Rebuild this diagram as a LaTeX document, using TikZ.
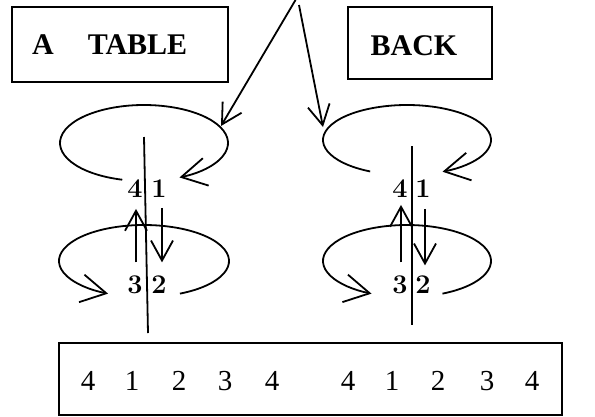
\documentclass[tikz,border=0pt]{standalone}
\usepackage{fontspec}
\newfontfamily\tnr{Liberation Serif}
\usetikzlibrary{arrows.meta}
\begin{document}
\begin{tikzpicture}[x=1pt,y=1pt,line width=1.8pt,
  tip/.style={-{Straight Barb[length=20pt,width=22pt]}},
  bigtip/.style={-{Straight Barb[length=25pt,width=28pt]}},
  boxed/.style={draw,line width=1.6pt,inner sep=0pt},
  lab/.style={font=\fontsize{27}{27}\selectfont\bfseries,inner sep=0pt,anchor=base},
  num/.style={font=\tnr\fontsize{29}{29}\selectfont,inner sep=0pt,anchor=base},
  title/.style={font=\tnr\bfseries\fontsize{30}{30}\selectfont,inner sep=0pt,anchor=base}]
\useasboundingbox (0,0) rectangle (595,-416);
% boxes
\node[boxed,minimum width=216pt,minimum height=75pt] (tablebox) at (120,-44.5) {};
\node[title] (a) at (43,-54) {A};
\node[title] (table) at (137.5,-54) {TABLE};
\node[boxed,minimum width=144pt,minimum height=72pt] (backbox) at (420,-43) {};
\node[title] (back) at (414,-55) {BACK};
\node[boxed,minimum width=503pt,minimum height=72pt] (seq) at (310.5,-379) {};
\foreach \x/\d [count=\i] in {88/4,132/1,179/2,225/3,272/4,348/4,392/1,438/2,487/3,532/4}
  \node[num] (s\i) at (\x,-390) {\d};
% top arrows
\coordinate (topL) at (295.5,0);
\coordinate (topR) at (299,-5);
\coordinate (hitL) at (221,-126);
\coordinate (hitR) at (323,-127);
\draw[tip] (topL) -- (hitL);
\draw[tip] (topR) -- (hitR);
% ellipses
\draw[bigtip] (144,-143) ++(255:84pt and 38pt) arc[start angle=255,end angle=-65,x radius=84pt,y radius=38pt];
\draw[bigtip] (144,-261) ++(-65:85pt and 36pt) arc[start angle=-65,end angle=245,x radius=85pt,y radius=36pt];
\draw[bigtip] (407,-140) ++(244:84pt and 35pt) arc[start angle=244,end angle=-65,x radius=84pt,y radius=35pt];
\draw[bigtip] (407,-261) ++(-65:84pt and 36pt) arc[start angle=-65,end angle=245,x radius=84pt,y radius=36pt];
% axes
\coordinate (axLt) at (144,-137);
\coordinate (axLb) at (148,-333);
\coordinate (axRt) at (412,-146);
\coordinate (axRb) at (412,-325);
\draw (axLt) -- (axLb);
\draw (axRt) -- (axRb);
% labels
\node[lab] (L4) at (135,-197) {4};
\node[lab] (L1) at (159,-197) {1};
\node[lab] (L3) at (135,-293) {3};
\node[lab] (L2) at (159,-293) {2};
\node[lab] (R4) at (400,-197) {4};
\node[lab] (R1) at (423,-197) {1};
\node[lab] (R3) at (400,-293) {3};
\node[lab] (R2) at (423,-293) {2};
% rotation arrows
\draw[tip,shorten <=12pt,shorten >=11pt] ([xshift=1pt]L3.north) -- ([xshift=1pt]L4.south);
\draw[tip,shorten <=10pt,shorten >=12pt] ([xshift=3pt]L1.south) -- ([xshift=3pt]L2.north);
\draw[tip,shorten <=12pt,shorten >=7pt] ([xshift=1pt]R3.north) -- ([xshift=1pt]R4.south);
\draw[tip,shorten <=11pt,shorten >=9pt] ([xshift=2pt]R1.south) -- ([xshift=2pt]R2.north);
\end{tikzpicture}
\end{document}
